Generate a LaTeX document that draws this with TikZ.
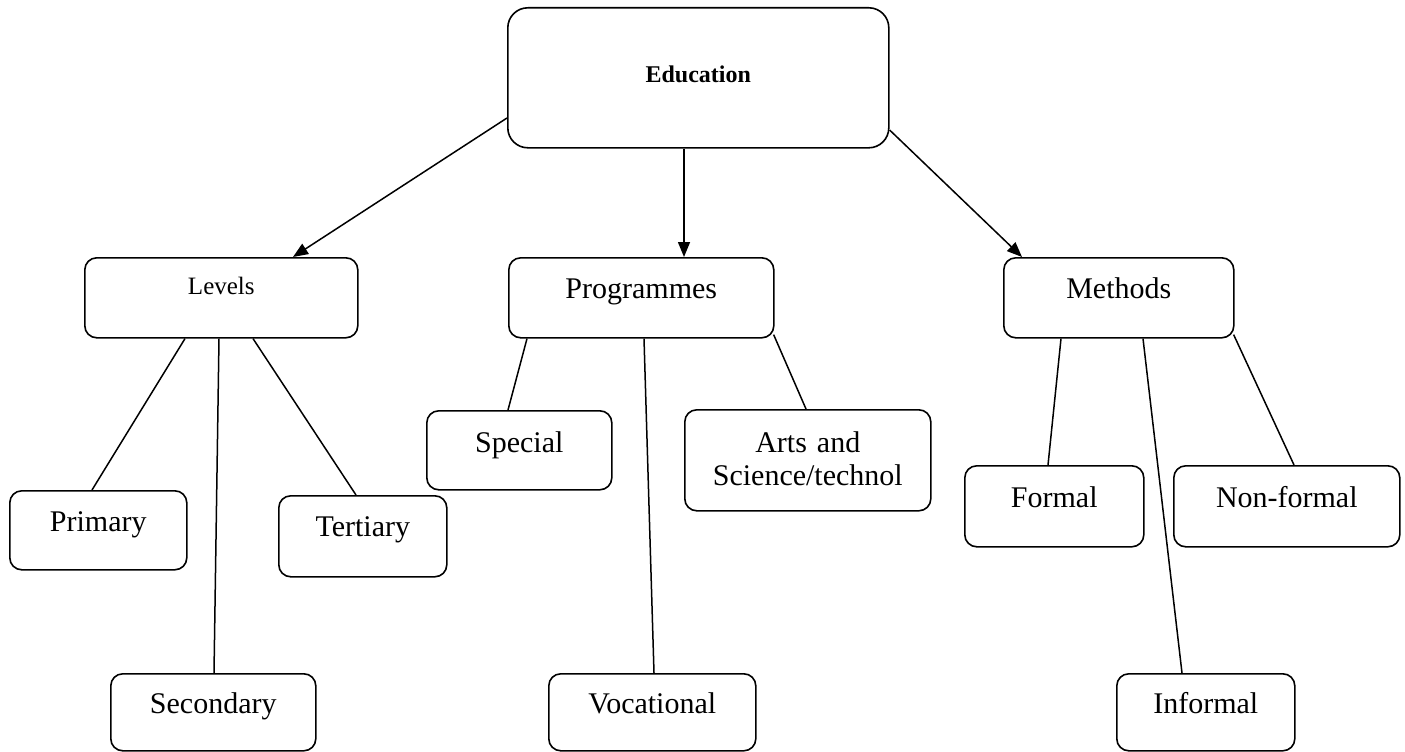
\documentclass[tikz,border=0pt]{standalone}
\usepackage{fontspec}
\setmainfont{Liberation Serif}
\usetikzlibrary{arrows.meta,calc}
\begin{document}
\begin{tikzpicture}[x=1pt,y=-1pt,
  box/.style={draw, line width=1.6pt, rounded corners=12pt, inner sep=0pt, align=center, anchor=north west, font=\fontsize{30}{33}\selectfont},
  link/.style={line width=1.5pt},
  arr/.style={line width=1.5pt, -{Triangle[length=15pt,width=12pt]}}]
\useasboundingbox (0,0) rectangle (1405,752);
% top
\node[box, text width=381pt, text height=75pt, text depth=65pt, rounded corners=20pt, font=\fontsize{24}{28}\selectfont\bfseries] (edu) at (507,7) {Education};
% second row
\node[box, text width=273pt, text height=37pt, text depth=43pt, font=\fontsize{25}{28}\selectfont] (lev) at (84,257) {Levels};
\node[box, text width=265pt, text height=41pt, text depth=39pt] (prog) at (508,257) {Programmes};
\node[box, text width=230pt, text height=41pt, text depth=39pt] (meth) at (1003,257) {Methods};
% third row
\node[box, text width=185pt, text height=42pt, text depth=37pt] (spe) at (426,410) {Special};
\node[box, text width=246pt, text height=43pt, text depth=58pt] (arts) at (684,409) {Arts and\\Science/technol};
\node[box, text width=177pt, text height=41pt, text depth=38pt] (pri) at (9,490) {Primary};
\node[box, text width=168pt, text height=41pt, text depth=40pt] (ter) at (278,495) {Tertiary};
\node[box, text width=179pt, text height=42pt, text depth=39pt] (form) at (964,465) {Formal};
\node[box, text width=226pt, text height=42pt, text depth=39pt] (nonf) at (1173,465) {Non-formal};
% bottom row
\node[box, text width=205pt, text height=40pt, text depth=37pt] (sec) at (110,673) {Secondary};
\node[box, text width=207pt, text height=40pt, text depth=37pt] (voc) at (548,673) {Vocational};
\node[box, text width=178pt, text height=40pt, text depth=37pt] (inf) at (1116,673) {Informal};
% arrows from Education
\draw[arr] ($(edu.north west)+(0,111)$) -- ($(lev.north west)+(209,0)$);
\draw[arr] ($(edu.south west)+(177,0)$) -- ($(prog.north west)+(176,0)$);
\draw[arr] ($(edu.north east)+(0,123)$) -- ($(meth.north west)+(19,0)$);
% Levels
\draw[link] ($(lev.south west)+(101,0)$) -- ($(pri.north west)+(83,0)$);
\draw[link] ($(lev.south west)+(135,0)$) -- ($(sec.north west)+(104,0)$);
\draw[link] ($(lev.south west)+(169,0)$) -- ($(ter.north west)+(78,0)$);
% Programmes
\draw[link] ($(prog.south west)+(19,0)$) -- ($(spe.north west)+(82,0)$);
\draw[link] ($(prog.south west)+(136,0)$) -- ($(voc.north west)+(106,0)$);
\draw[link] ($(prog.south east)+(-1,-4)$) -- ($(arts.north west)+(122,0)$);
% Methods
\draw[link] ($(meth.south west)+(58,0)$) -- ($(form.north west)+(84,0)$);
\draw[link] ($(meth.south west)+(140,0)$) -- ($(inf.north west)+(66,0)$);
\draw[link] ($(meth.south east)+(-1,-4)$) -- ($(nonf.north west)+(121,0)$);
\end{tikzpicture}
\end{document}
